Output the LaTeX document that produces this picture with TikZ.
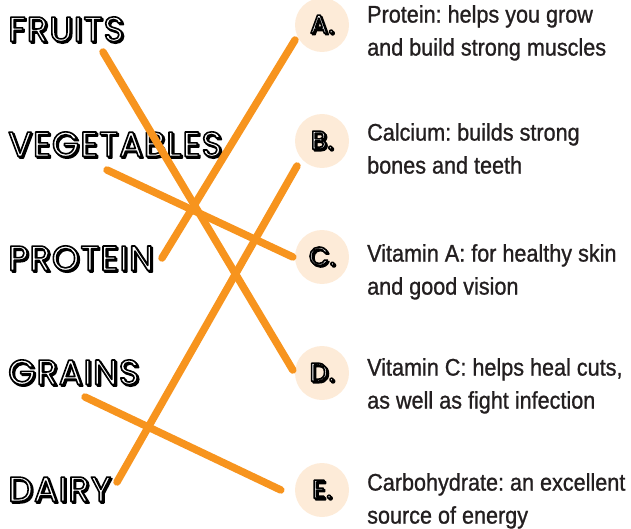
\documentclass[tikz,border=0pt]{standalone}
\usepackage{fontspec}
\setmainfont{Liberation Sans}[FakeStretch=0.9,FakeBold=1]
\newfontfamily\comicfont{Poppins}[LetterSpace=3]
\definecolor{tangerine}{HTML}{F7941E}
\definecolor{peach}{HTML}{FDEBD8}
\definecolor{inkgray}{HTML}{231F20}
\usetikzlibrary{positioning,calc}
\frenchspacing
% outlined letters with a small drop shadow
\newcommand\hollow[1]{\special{pdf:literal direct 2 Tr 1.6 w 1 j 0 0 0 rg 0 0 0 RG}\rlap{\kern1.5pt\raisebox{-1.5pt}{#1}}\special{pdf:literal direct 1 1 1 rg}#1\special{pdf:literal direct 0 Tr 0 0 0 rg}}

\begin{document}
\begin{tikzpicture}[x=1pt,y=-1pt,
  group/.style={anchor=west,inner sep=0pt,font=\comicfont\fontsize{35}{35}\selectfont},
  badge/.style={circle,fill=peach,minimum size=54pt,inner sep=0pt,font=\comicfont\fontsize{26}{26}\selectfont},
  fact/.style={anchor=north west,align=left,inner sep=0pt,text=inkgray,font=\fontsize{24}{33}\selectfont},
  link/.style={tangerine,line width=7.5pt,line cap=round}]
  \useasboundingbox (0,0) rectangle (631,529);
  % food groups
  \node[group] (fruits) at (8,30) {\hollow{FRUITS}};
  \node[group] (vegetables) at (8,145) {\hollow{VEGETABLES}};
  \node[group] (protein) at (8,259) {\hollow{PROTEIN}};
  \node[group] (grains) at (8,373) {\hollow{GRAINS}};
  \node[group] (dairy) at (8,490) {\hollow{DAIRY}};
  % answer badges
  \node[badge] (A) at (322,25) {\hollow{A.}};
  \node[badge] (B) at (322,141) {\hollow{B.}};
  \node[badge] (C) at (322,257) {\hollow{C.}};
  \node[badge] (D) at (322,373) {\hollow{D.}};
  \node[badge] (E) at (322,490) {\hollow{E.}};
  % facts
  \node[fact] (factA) at (367,5) {Protein: helps you grow\\and build strong muscles};
  \node[fact] (factB) at (367,123) {Calcium: builds strong\\bones and teeth};
  \node[fact] (factC) at (367,244) {Vitamin A: for healthy skin\\and good vision};
  \node[fact] (factD) at (367,358) {Vitamin C: helps heal cuts,\\as well as fight infection};
  \node[fact] (factE) at (367,473) {Carbohydrate: an excellent\\source of energy};
  % matching lines
  \draw[link] ([shift={(95,22)}]fruits.west) -- ([shift={(-2,-3)}]D.west);
  \draw[link] ([shift={(99,25)}]vegetables.west) -- ([xshift=-2]C.west);
  \draw[link] ([shift={(154,-1)}]protein.west) -- ([shift={(-27,15)}]A.center);
  \draw[link] ([shift={(77,24)}]grains.west) -- ([xshift=-14]E.west);
  \draw[link] ([shift={(109,-8)}]dairy.west) -- ([shift={(-25,25)}]B.center);
\end{tikzpicture}
\end{document}
